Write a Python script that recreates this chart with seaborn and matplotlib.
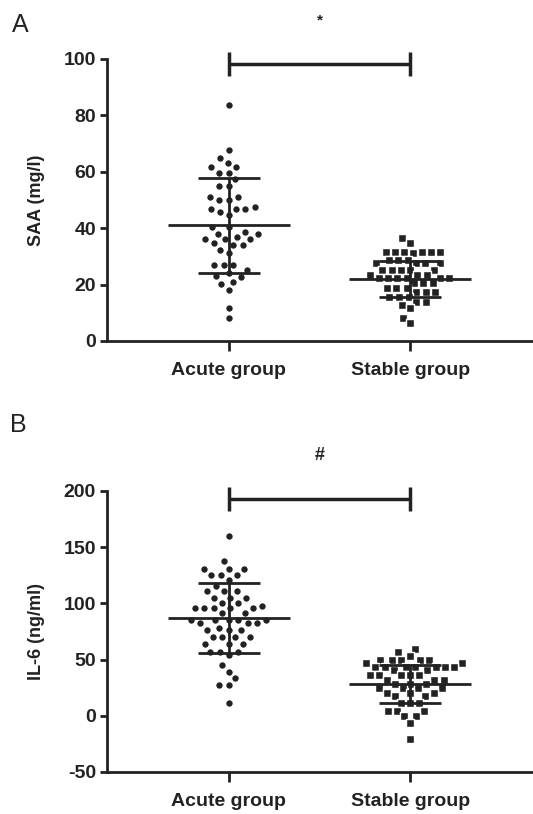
import numpy as np
import pandas as pd
import matplotlib
matplotlib.use("Agg")
import matplotlib.pyplot as plt
import seaborn as sns

sns.set_style("ticks")
plt.rcParams["font.family"] = ["Liberation Sans", "DejaVu Sans"]
plt.rcParams["axes.unicode_minus"] = False

groups = ["Acute group", "Stable group"]

# Panel A: SAA (mg/l)
saa_acute = [83.7, 67.7, 64.8, 63, 61.6, 61.6, 59.7, 59.7, 57.3, 55, 55, 51.2, 51.2,
             50, 50, 47.6, 46.8, 46.8, 46.8, 45.6, 44.6, 40.5, 40.5, 38.8, 38, 38, 37,
             36, 36, 36, 34.9, 34, 34, 32.3, 31.1, 27, 27, 27, 25.2, 24.2, 23, 22.6, 21,
             20.2, 18.1, 11.6, 8]
saa_stable = [36.4, 34.9, 31.7, 31.7, 31.7, 31.7, 31.7, 31.7, 31.2, 28.7, 28.7, 28.7,
              27.5, 27.5, 27.5, 27.5, 25.2, 25.2, 25.2, 25.2, 25.2, 23.4, 23.4, 23.4,
              22.3, 22.3, 22.3, 22.3, 22.3, 22.3, 20.5, 20.5, 20.5, 18.7, 18.7, 18.7,
              17.5, 17.5, 17.5, 15.7, 15.7, 15.7, 13.9, 13.9, 12.8, 11.6, 8, 6.3]
saa_mean = [41, 22]
saa_sd = [16.8, 6.5]

# Panel B: IL-6 (ng/ml)
il6_acute = [160, 138, 131, 131, 131, 125.4, 125.4, 125.4, 121, 115.7, 110.6, 110.6,
             110.6, 104.7, 104.7, 104.7, 100.2, 100.2, 97.9, 95.8, 95.8, 95.8, 95.8,
             95.8, 91.4, 91.4, 85.4, 85.4, 85.4, 85.4, 85.4, 82.5, 82.5, 82.5, 78, 76.5,
             76.5, 76.5, 70, 70, 70, 70, 64, 64, 64, 57.2, 57.2, 57.2, 54.3, 45.4, 39.4,
             33.5, 27.6, 27.6, 11.8]
il6_stable = [59.3, 57.2, 52.8, 49.8, 49.8, 49.8, 49.8, 49.8, 46.9, 46.9, 43.3, 43.3,
              43.3, 43.3, 43.3, 43.3, 43.3, 40.9, 40.9, 36.5, 36.5, 36.5, 36.5, 36.5,
              32, 32, 32, 28.5, 28.5, 28.5, 24.6, 24.6, 24.6, 24.6, 20.2, 20.2, 20.2,
              17.2, 17.2, 11.3, 11.3, 11.3, 3.9, 3.9, 3.9, -0.6, -0.6, -6.5, -20.7]
il6_mean = [87, 28]
il6_sd = [31, 17]

ink = "#222222"
fig = plt.figure(figsize=(5.33, 8.14), dpi=100)

W, H = 533, 814
def axes_px(left, top, right, bottom):
    return fig.add_axes([left / W, 1 - bottom / H, (right - left) / W, (bottom - top) / H])

axA = axes_px(107, 59, 532, 341)
axB = axes_px(107, 491, 532, 772)

def panel(ax, acute, stable, means, sds, ylim, yticks, ylabel, bracket_y, sym, sym_y, symsize):
    dfa = pd.DataFrame({"group": groups[0], "value": acute})
    dfs = pd.DataFrame({"group": groups[1], "value": stable})
    sns.swarmplot(data=dfa, x="group", y="value", order=groups, ax=ax, color=ink,
                  marker="o", size=5.6, linewidth=1.0, edgecolor="white")
    sns.swarmplot(data=dfs, x="group", y="value", order=groups, ax=ax, color=ink,
                  marker="s", size=5.3, linewidth=1.0, edgecolor="white")
    for i, (m, s) in enumerate(zip(means, sds)):
        ax.hlines(m, i - 0.335, i + 0.335, color=ink, lw=2, zorder=5)
        ax.hlines([m - s, m + s], i - 0.17, i + 0.17, color=ink, lw=2, zorder=5)
        ax.vlines(i, m - s, m + s, color=ink, lw=2, zorder=5)
    ax.set_xlim(-0.67, 1.67)
    ax.set_ylim(*ylim)
    ax.set_yticks(yticks)
    ax.plot([0, 1], [bracket_y, bracket_y], color=ink, lw=2.5, clip_on=False,
            solid_capstyle="butt")
    dy = (ylim[1] - ylim[0]) * 12 / 282
    ax.vlines([0, 1], bracket_y - dy, bracket_y + dy, color=ink, lw=2.5, clip_on=False)
    ax.text(0.5, sym_y, sym, ha="center", va="center", fontsize=symsize,
            fontweight="bold", color=ink, clip_on=False)
    ax.set_xlabel("")
    ax.set_ylabel(ylabel, fontsize=13, fontweight="bold", color=ink)
    ax.yaxis.label.set_va("center")
    ax.yaxis.set_label_coords(-0.167, 0.5)
    sns.despine(ax=ax)
    for sp in ["left", "bottom"]:
        ax.spines[sp].set_linewidth(2)
        ax.spines[sp].set_color(ink)
    ax.tick_params(axis="both", width=2, color=ink, labelsize=14, labelcolor=ink)
    ax.tick_params(axis="y", length=5, pad=3)
    ax.tick_params(axis="x", length=7, pad=8)
    for lab in ax.get_xticklabels() + ax.get_yticklabels():
        lab.set_fontweight("bold")

panel(axA, saa_acute, saa_stable, saa_mean, saa_sd, (0, 100), [0, 20, 40, 60, 80, 100],
      "SAA (mg/l)", 98.2, "*", 113.8, 11)
panel(axB, il6_acute, il6_stable, il6_mean, il6_sd, (-50, 200), [-50, 0, 50, 100, 150, 200],
      "IL-6 (ng/ml)", 192.8, "#", 232, 13)

fig.text(12 / W, 1 - 25 / H, "A", fontsize=18, ha="left", va="center", color=ink)
fig.text(10 / W, 1 - 425 / H, "B", fontsize=18, ha="left", va="center", color=ink)

fig.savefig("out.png", dpi=100)
